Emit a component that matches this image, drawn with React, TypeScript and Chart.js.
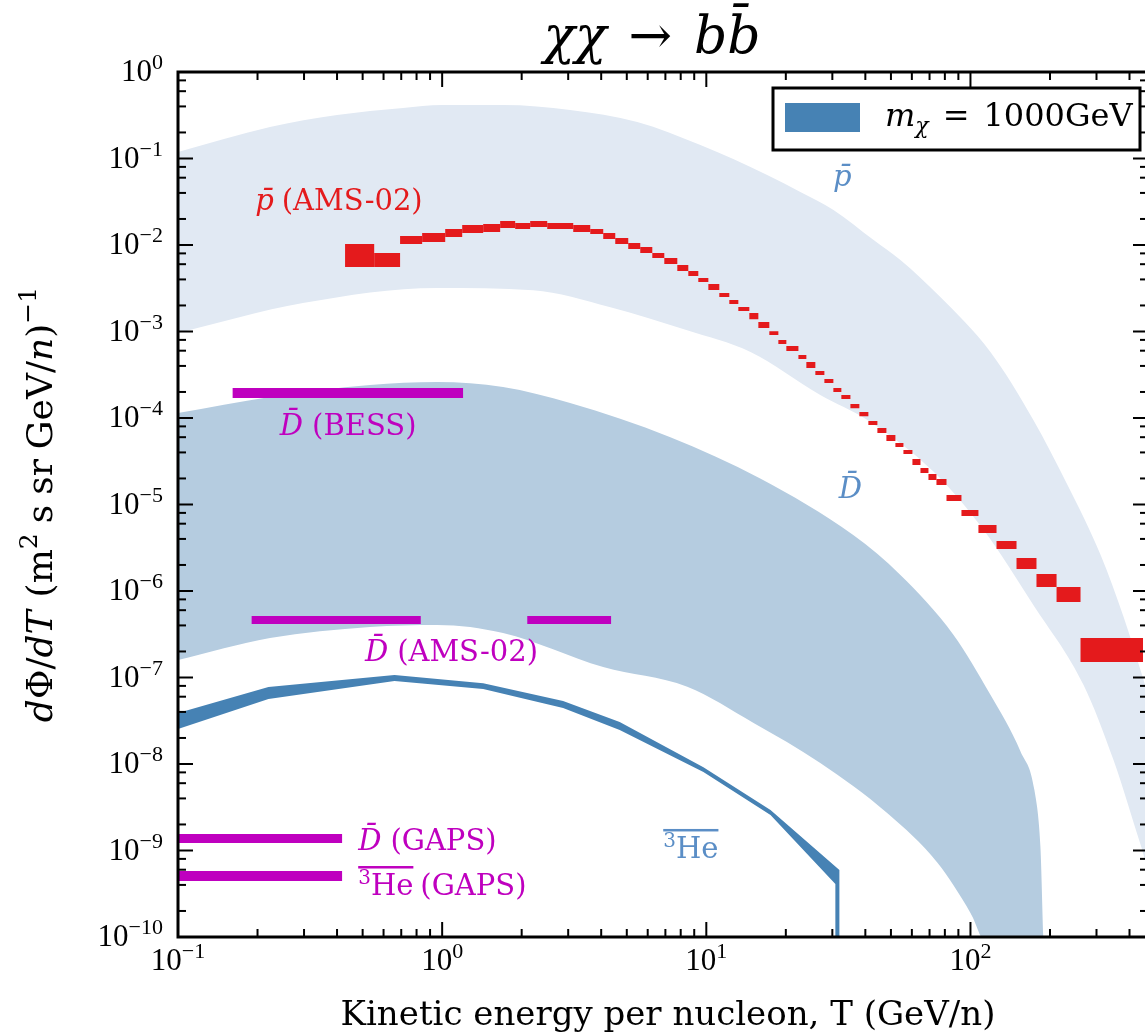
import React, { useEffect, useRef } from "react";
import { Chart, registerables } from "chart.js";

Chart.register(...registerables);

// Axis ranges: kinetic energy per nucleon T (GeV/n) and flux dΦ/dT
const T_MIN = 0.1;
const T_MAX = 470;
const FLUX_MIN = 1e-10;
const FLUX_MAX = 1;

// Antiproton prediction band (upper / lower envelopes)
const pbarUpperT = [0.1, 0.223, 0.4, 0.711, 1.0, 1.7, 3.05, 5.48, 9.5, 17.0, 22.7, 30.3, 43.0, 54.3, 76.9, 119, 173, 233, 311, 380, 452, 525];
const pbarUpper = [0.119, 0.231, 0.318, 0.384, 0.415, 0.415, 0.364, 0.264, 0.143, 0.0645, 0.041, 0.0254, 0.0114, 6.7e-3, 2.5e-3, 5.8e-4, 9.5e-5, 1.68e-5, 2.61e-6, 5.0e-7, 9.4e-8, 2.2e-8];
const pbarLowerT = [0.1, 0.297, 0.958, 2.21, 4.3, 8.4, 14.7, 27.0, 40.7, 72.4, 112, 173, 268, 348, 441, 525];
const pbarLower = [9.6e-4, 2.13e-3, 3.18e-3, 3.0e-3, 1.92e-3, 1.04e-3, 5.8e-4, 1.85e-4, 9.5e-5, 2.4e-5, 5.1e-6, 6.9e-7, 8.2e-8, 1.11e-8, 1.16e-9, 2.34e-10];

// Antideuteron prediction band
const dbarUpperT = [0.1, 0.223, 0.533, 0.958, 1.7, 3.05, 7.31, 16.0, 36.1, 54.3, 86.3, 119, 155, 174.6, 184, 191];
const dbarUpper = [1.14e-4, 1.75e-4, 2.41e-4, 2.61e-4, 2.28e-4, 1.49e-4, 6.0e-5, 2.0e-5, 4.4e-6, 1.53e-6, 3.1e-7, 6.3e-8, 1.38e-8, 5.0e-9, 1.1e-9, 5.4e-11];
const dbarLowerT = [0.1, 0.223, 0.533, 0.958, 1.7, 4.07, 8.47, 15.1, 27.0, 48.5, 75.0, 100, 119];
const dbarLower = [1.59e-7, 2.86e-7, 3.84e-7, 4.05e-7, 3.27e-7, 1.32e-7, 7.8e-8, 2.98e-8, 1.03e-8, 2.7e-9, 7.2e-10, 1.9e-10, 7e-11];

// Anti-helium-3 prediction band (ends with a drop at the kinematic cut)
const heUpperT = [0.1, 0.22, 0.66, 1.43, 2.87, 4.7, 9.75, 17.5, 31.9, 31.9];
const heUpper = [3.89e-8, 7.76e-8, 1.07e-7, 8.6e-8, 5.35e-8, 3.06e-8, 9.2e-9, 2.94e-9, 5.95e-10, 1e-12];
const heLowerT = [0.1, 0.22, 0.66, 1.43, 2.87, 4.7, 9.75, 17.5, 30.8, 30.8];
const heLower = [2.54e-8, 5.64e-8, 9.1e-8, 7.36e-8, 4.43e-8, 2.47e-8, 8.1e-9, 2.57e-9, 4.1e-10, 1e-12];

// AMS-02 antiproton flux: bin edges in T and flux error range per bin
const amsPbarEdges = [0.429, 0.553, 0.693, 0.84, 1.027, 1.191, 1.43, 1.658, 1.89, 2.154, 2.499, 3.135, 3.636, 4.072, 4.522, 5.064, 5.623, 6.245, 6.934, 7.766, 8.548, 9.326, 10.18, 11.2, 12.22, 13.22, 14.55, 15.74, 17.32, 18.74, 20.09, 22.32, 23.92, 25.87, 27.99, 30.27, 32.45, 35.12, 37.97, 41.07, 44.43, 48.06, 51.98, 55.75, 60.3, 64.67, 69.34, 74.35, 81.15, 92.45, 107.2, 125.5, 149.4, 177.8, 211.8, 261.0, 450];
const amsPbarHigh = [1.027e-2, 8.08e-3, 1.271e-2, 1.376e-2, 1.531e-2, 1.703e-2, 1.749e-2, 1.894e-2, 1.796e-2, 1.894e-2, 1.796e-2, 1.703e-2, 1.531e-2, 1.376e-2, 1.204e-2, 1.055e-2, 9.48e-3, 8.08e-3, 7.07e-3, 5.87e-3, 5.0e-3, 4.15e-3, 3.54e-3, 2.79e-3, 2.31e-3, 1.92e-3, 1.64e-3, 1.29e-3, 1.01e-3, 7.97e-4, 6.8e-4, 5.35e-4, 4.44e-4, 3.49e-4, 2.82e-4, 2.22e-4, 1.84e-4, 1.45e-4, 1.17e-4, 9.23e-5, 7.66e-5, 6.36e-5, 5.14e-5, 4.27e-5, 3.36e-5, 2.64e-5, 2.25e-5, 1.97e-5, 1.29e-5, 8.64e-6, 5.79e-6, 3.78e-6, 2.41e-6, 1.57e-6, 1.11e-6, 2.86e-7];
const amsPbarLow = [5.57e-3, 5.57e-3, 1.027e-2, 1.083e-2, 1.238e-2, 1.376e-2, 1.413e-2, 1.572e-2, 1.531e-2, 1.615e-2, 1.531e-2, 1.413e-2, 1.34e-2, 1.173e-2, 1.027e-2, 8.99e-3, 8.08e-3, 7.07e-3, 6.03e-3, 5.0e-3, 4.38e-3, 3.73e-3, 3.02e-3, 2.5e-3, 2.08e-3, 1.73e-3, 1.39e-3, 1.1e-3, 9.11e-4, 7.17e-4, 5.95e-4, 4.81e-4, 3.78e-4, 3.14e-4, 2.54e-4, 2.0e-4, 1.66e-4, 1.3e-4, 1.05e-4, 8.3e-5, 6.71e-5, 5.42e-5, 4.62e-5, 3.84e-5, 2.86e-5, 2.31e-5, 1.92e-5, 1.68e-5, 1.1e-5, 7.36e-6, 4.68e-6, 3.06e-6, 1.8e-6, 1.11e-6, 7.46e-7, 1.51e-7];

// Experimental sensitivities: [Tmin, Tmax] ranges and flux level
const bessDbarRange = [0.161, 1.2];
const bessDbarFlux = 1.95e-4;
const amsDbarRanges = [[0.19, 0.83], [2.1, 4.36]];
const amsDbarFlux = 4.62e-7;
const gapsRange = [0.1, 0.418];
const gapsDbarFlux = 1.38e-9;
const gapsHeFlux = 5.07e-10;

// Tick labels (powers of ten)
const xTickExponents = [-1, 0, 1, 2];
const yTickExponents = [0, -1, -2, -3, -4, -5, -6, -7, -8, -9, -10];

const LIGHT_BAND = "#e1e9f3";
const MID_BAND = "#b5cce0";
const STEEL = "#4682b4";
const RED = "#e41a1c";
const MAGENTA = "#bf00bf";
const LABEL_BLUE = "#5b8ec6";

const SERIF = '"DejaVu Serif"';
const NUM = '"Liberation Serif"';

const CANVAS_W = 1175;
const CANVAS_H = 1035;
const AREA = { left: 178, top: 72, right: 1148, bottom: 937 };

type Pt = { x: number; y: number };
type Run = { t: string; font: string; dy?: number; gap?: number };

const pts = (xs: number[], ys: number[]): Pt[] => xs.map((x, i) => ({ x, y: ys[i] }));
const band = (ux: number[], uy: number[], lx: number[], ly: number[]): Pt[] =>
  [...pts(ux, uy), ...pts(lx, ly).reverse()];

function shapeSet(data: Pt[], color: string, order: number, smooth = false) {
  return {
    data,
    showLine: true,
    fill: "shape",
    backgroundColor: color,
    borderColor: "rgba(0,0,0,0)",
    borderWidth: 0,
    pointRadius: 0,
    tension: 0,
    cubicInterpolationMode: smooth ? "monotone" : "default",
    capBezierPoints: false,
    order,
  };
}

function barSet(t0: number, t1: number, flux: number, width: number) {
  return {
    data: [{ x: t0, y: flux }, { x: t1, y: flux }],
    showLine: true,
    fill: false,
    borderColor: MAGENTA,
    borderWidth: width,
    borderCapStyle: "butt",
    pointRadius: 0,
    order: 2,
  };
}

function drawRuns(ctx: CanvasRenderingContext2D, runs: Run[], x: number, y: number, align: string, color: string) {
  const widths = runs.map((r) => {
    ctx.font = r.font;
    return ctx.measureText(r.t).width + (r.gap ?? 0);
  });
  const total = widths.reduce((s, w) => s + w, 0);
  let cx = align === "left" ? x : align === "center" ? x - total / 2 : x - total;
  ctx.fillStyle = color;
  ctx.textAlign = "left";
  ctx.textBaseline = "alphabetic";
  runs.forEach((r, i) => {
    ctx.font = r.font;
    ctx.fillText(r.t, cx, y + (r.dy ?? 0));
    cx += widths[i];
  });
  return total;
}

const sz = (n: number, family: string, style = "") => `${style}${style ? " " : ""}${n}px ${family}`;

function supLabel(exp: number): Run[] {
  const e = exp < 0 ? "\u2212" + Math.abs(exp) : String(exp);
  return [
    { t: "10", font: sz(31, NUM) },
    { t: e, font: sz(22, NUM), dy: -12 },
  ];
}

// Text labels placed in data coordinates (T, flux); flux marks the vertical middle
const annotations: { runs: Run[]; T: number; flux: number; align: string; color: string; overRange?: [number, number] }[] = [
  { runs: [{ t: "p\u0304", font: sz(29, SERIF, "italic"), gap: 8 }, { t: "(AMS-02)", font: sz(29, SERIF) }], T: 0.196, flux: 0.033, align: "left", color: RED },
  { runs: [{ t: "p\u0304", font: sz(29, SERIF, "italic") }], T: 32.7, flux: 0.0628, align: "center", color: LABEL_BLUE },
  { runs: [{ t: "D\u0304", font: sz(29, SERIF, "italic"), gap: 9 }, { t: "(BESS)", font: sz(29, SERIF) }], T: 0.243, flux: 8.3e-5, align: "left", color: MAGENTA },
  { runs: [{ t: "D\u0304", font: sz(29, SERIF, "italic") }], T: 35.1, flux: 1.55e-5, align: "center", color: LABEL_BLUE },
  { runs: [{ t: "D\u0304", font: sz(29, SERIF, "italic"), gap: 9 }, { t: "(AMS-02)", font: sz(29, SERIF) }], T: 0.51, flux: 2.02e-7, align: "left", color: MAGENTA },
  { runs: [{ t: "D\u0304", font: sz(29, SERIF, "italic"), gap: 9 }, { t: "(GAPS)", font: sz(29, SERIF) }], T: 0.481, flux: 1.32e-9, align: "left", color: MAGENTA },
  { runs: [{ t: "3", font: sz(20, SERIF), dy: -11 }, { t: "He", font: sz(29, SERIF), gap: 7 }, { t: "(GAPS)", font: sz(29, SERIF) }], T: 0.481, flux: 3.99e-10, align: "left", color: MAGENTA, overRange: [0, 2] },
  { runs: [{ t: "3", font: sz(20, SERIF), dy: -11 }, { t: "He", font: sz(29, SERIF) }], T: 6.87, flux: 1.07e-9, align: "left", color: LABEL_BLUE, overRange: [0, 2] },
];

const decorations = {
  id: "decorations",
  afterDatasetsDraw(chart: any) {
    const { ctx, scales } = chart;
    const xs = scales.x;
    const ys = scales.y;
    ctx.save();
    for (const a of annotations) {
      const px = xs.getPixelForValue(a.T);
      const py = ys.getPixelForValue(a.flux) + 10;
      const w = drawRuns(ctx, a.runs, px, py, a.align, a.color);
      if (a.overRange) {
        let ow = 0;
        for (let i = a.overRange[0]; i < a.overRange[1]; i++) {
          ctx.font = a.runs[i].font;
          ow += ctx.measureText(a.runs[i].t).width;
        }
        const left = a.align === "center" ? px - w / 2 : px;
        ctx.fillRect(left, py - 29, ow, 2.5);
      }
    }
    ctx.restore();
  },
  afterDraw(chart: any) {
    const { ctx, chartArea: a, scales } = chart;
    const xs = scales.x;
    const ys = scales.y;
    ctx.save();

    // inward ticks on all four sides
    ctx.strokeStyle = "#000";
    ctx.lineWidth = 2;
    const tick = (x0: number, y0: number, x1: number, y1: number) => {
      ctx.beginPath();
      ctx.moveTo(x0, y0);
      ctx.lineTo(x1, y1);
      ctx.stroke();
    };
    for (let k = -1; k <= 2; k++) {
      for (let m = 1; m <= 9; m++) {
        const v = m * Math.pow(10, k);
        if (v < T_MIN || v > T_MAX) continue;
        const px = xs.getPixelForValue(v);
        const len = m === 1 ? 15 : 8;
        tick(px, a.bottom, px, a.bottom - len);
        tick(px, a.top, px, a.top + len);
      }
    }
    for (let k = -10; k <= 0; k++) {
      for (const m of [1, 2, 4, 6, 8]) {
        const v = m * Math.pow(10, k);
        if (v < FLUX_MIN || v > FLUX_MAX) continue;
        const py = ys.getPixelForValue(v);
        const len = m === 1 ? 15 : 8;
        tick(a.left, py, a.left + len, py);
        tick(a.right, py, a.right - len, py);
      }
    }

    // frame
    ctx.lineWidth = 3;
    ctx.strokeRect(a.left, a.top, a.right - a.left, a.bottom - a.top);

    // tick labels
    for (const e of xTickExponents) {
      const px = xs.getPixelForValue(Math.pow(10, e));
      drawRuns(ctx, supLabel(e), px, a.bottom + 33, "center", "#000");
    }
    for (const e of yTickExponents) {
      const py = ys.getPixelForValue(Math.pow(10, e));
      drawRuns(ctx, supLabel(e), a.left - 15, py + 9, "right", "#000");
    }

    // axis titles
    drawRuns(ctx, [{ t: "Kinetic energy per nucleon, T (GeV/n)", font: sz(34, SERIF) }], (a.left + a.right) / 2 + 5, a.bottom + 88, "center", "#000");
    ctx.save();
    ctx.translate(a.left - 126, (a.top + a.bottom) / 2);
    ctx.rotate(-Math.PI / 2);
    const f = 36;
    drawRuns(ctx, [
      { t: "d", font: sz(f, SERIF, "italic") },
      { t: "\u03a6/", font: sz(f, SERIF) },
      { t: "dT", font: sz(f, SERIF, "italic"), gap: 13 },
      { t: "(m", font: sz(f, SERIF) },
      { t: "2", font: sz(25, SERIF), dy: -15, gap: 10 },
      { t: "s", font: sz(f, SERIF), gap: 10 },
      { t: "sr", font: sz(f, SERIF), gap: 10 },
      { t: "GeV/", font: sz(f, SERIF) },
      { t: "n", font: sz(f, SERIF, "italic") },
      { t: ")", font: sz(f, SERIF) },
      { t: "\u22121", font: sz(25, SERIF), dy: -16 },
    ], 0, 0, "center", "#000");
    ctx.restore();

    // title
    drawRuns(ctx, [
      { t: "\u03c7\u03c7", font: sz(52, SERIF, "italic"), gap: 22 },
      { t: "\u2192", font: sz(52, SERIF), gap: 22 },
      { t: "bb\u0304", font: sz(52, SERIF, "italic") },
    ], 652, a.top - 19, "center", "#000");

    // legend
    const lw = 367;
    const lh = 62;
    const lx = a.right - 8 - lw;
    const ly = a.top + 16;
    ctx.fillStyle = "#fff";
    ctx.fillRect(lx, ly, lw, lh);
    ctx.lineWidth = 3;
    ctx.strokeStyle = "#000";
    ctx.strokeRect(lx, ly, lw, lh);
    ctx.fillStyle = STEEL;
    ctx.fillRect(lx + 12, ly + 15, 75, 29);
    drawRuns(ctx, [
      { t: "m", font: sz(32, SERIF, "italic") },
      { t: "\u03c7", font: sz(22, SERIF, "italic"), dy: 7, gap: 14 },
      { t: "=", font: sz(32, SERIF), gap: 14 },
      { t: "1000GeV", font: sz(32, SERIF) },
    ], lx + 112, ly + 38, "left", "#000");

    ctx.restore();
  },
};

export default function App() {
  const ref = useRef<HTMLCanvasElement | null>(null);

  useEffect(() => {
    document.body.style.margin = "0";
    const canvas = ref.current;
    if (!canvas) return;

    const datasets: any[] = [
      shapeSet(band(pbarUpperT, pbarUpper, pbarLowerT, pbarLower), LIGHT_BAND, 10, true),
      shapeSet(band(dbarUpperT, dbarUpper, dbarLowerT, dbarLower), MID_BAND, 9, true),
      shapeSet(band(heUpperT, heUpper, heLowerT, heLower), STEEL, 8),
      barSet(bessDbarRange[0], bessDbarRange[1], bessDbarFlux, 10),
      ...amsDbarRanges.map((r) => barSet(r[0], r[1], amsDbarFlux, 8)),
      barSet(gapsRange[0], gapsRange[1], gapsDbarFlux, 9),
      barSet(gapsRange[0], gapsRange[1], gapsHeFlux, 10),
    ];
    amsPbarHigh.forEach((hi, i) => {
      const t0 = amsPbarEdges[i];
      const t1 = amsPbarEdges[i + 1];
      const lo = amsPbarLow[i];
      datasets.push(
        shapeSet(
          [{ x: t0, y: lo }, { x: t0, y: hi }, { x: t1, y: hi }, { x: t1, y: lo }],
          RED,
          1
        )
      );
    });

    const chart = new Chart(canvas, {
      type: "scatter",
      data: { datasets },
      plugins: [decorations],
      options: {
        responsive: false,
        animation: false,
        events: [],
        layout: { padding: { top: AREA.top, right: CANVAS_W - AREA.right, left: 0, bottom: 0 } },
        plugins: { legend: { display: false }, tooltip: { enabled: false } },
        scales: {
          x: {
            type: "logarithmic",
            min: T_MIN,
            max: T_MAX,
            grid: { display: false },
            border: { display: false },
            ticks: { display: false },
            afterFit: (s: any) => {
              s.height = CANVAS_H - AREA.bottom;
            },
          },
          y: {
            type: "logarithmic",
            min: FLUX_MIN,
            max: FLUX_MAX,
            grid: { display: false },
            border: { display: false },
            ticks: { display: false },
            afterFit: (s: any) => {
              s.width = AREA.left;
            },
          },
        },
      } as any,
    });
    return () => chart.destroy();
  }, []);

  return (
    <div style={{ width: 1145, height: CANVAS_H, overflow: "hidden", position: "relative", background: "#fff" }}>
      <canvas ref={ref} width={CANVAS_W} height={CANVAS_H} style={{ display: "block" }} />
    </div>
  );
}
